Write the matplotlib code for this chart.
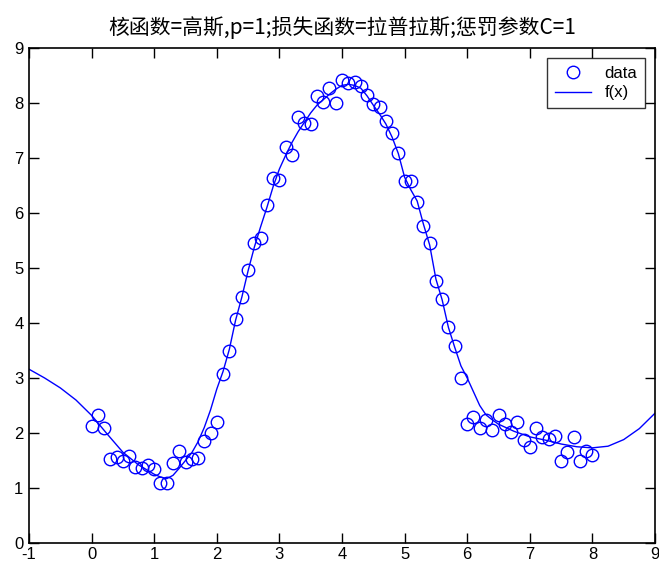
import numpy as np
import matplotlib
matplotlib.use("Agg")
import matplotlib.pyplot as plt

plt.rcParams['font.family'] = ['Liberation Sans', 'Noto Sans CJK SC', 'DejaVu Sans']
plt.rcParams['axes.unicode_minus'] = False

# Sample points (x from 0 to 8, step 0.1)
data_x = [round(0.1 * i, 1) for i in range(81)]
data_y = [
    2.12, 2.33, 2.10, 1.53, 1.57, 1.50, 1.58, 1.38, 1.36, 1.42,
    1.35, 1.10, 1.10, 1.45, 1.68, 1.48, 1.52, 1.55, 1.85, 2.00,
    2.20, 3.08, 3.50, 4.08, 4.47, 4.97, 5.45, 5.55, 6.15, 6.64,
    6.60, 7.20, 7.06, 7.75, 7.63, 7.62, 8.13, 8.02, 8.27, 8.00,
    8.42, 8.36, 8.38, 8.30, 8.15, 7.98, 7.93, 7.67, 7.45, 7.10,
    6.58, 6.58, 6.20, 5.76, 5.45, 4.76, 4.43, 3.93, 3.58, 3.00,
    2.16, 2.30, 2.10, 2.24, 2.05, 2.32, 2.16, 2.02, 2.20, 1.87,
    1.74, 2.09, 1.93, 1.90, 1.95, 1.50, 1.65, 1.92, 1.50, 1.68,
    1.60,
]

# Fitted regression curve f(x)
fx_x = [-1.0, -0.75, -0.5, -0.25, 0.0, 0.25, 0.5, 0.75, 1.0, 1.1, 1.2, 1.3,
        1.4, 1.5, 1.6, 1.7, 1.8, 1.9, 2.0, 2.1, 2.2, 2.3, 2.4, 2.5, 2.6,
        2.7, 2.8, 2.9, 3.0, 3.1, 3.2, 3.3, 3.4, 3.5, 3.6, 3.7, 3.8, 3.9,
        4.0, 4.1, 4.2, 4.3, 4.4, 4.5, 4.6, 4.7, 4.8, 4.9, 5.0, 5.1, 5.2,
        5.3, 5.4, 5.5, 5.6, 5.7, 5.8, 5.9, 6.0, 6.1, 6.2, 6.3, 6.4, 6.5,
        6.75, 7.0, 7.25, 7.5, 7.75, 8.0, 8.25, 8.5, 8.75, 9.0]
fx_y = [3.16, 3.00, 2.82, 2.60, 2.32, 1.98, 1.65, 1.42, 1.25, 1.20, 1.17, 1.23,
        1.36, 1.50, 1.64, 1.84, 2.10, 2.42, 2.80, 3.12, 3.52, 4.05, 4.47, 4.95,
        5.38, 5.75, 6.10, 6.48, 6.80, 7.05, 7.28, 7.48, 7.65, 7.82, 7.96,
        8.06, 8.16, 8.25, 8.32, 8.34, 8.32, 8.27, 8.13, 7.96, 7.80, 7.62,
        7.38, 7.08, 6.65, 6.42, 6.22, 5.80, 5.42, 4.80, 4.42, 3.92, 3.56,
        3.22, 3.00, 2.75, 2.50, 2.33, 2.24, 2.16, 2.03, 1.93, 1.87, 1.80,
        1.75, 1.73, 1.76, 1.88, 2.08, 2.36]

x_ticks = list(range(-1, 10))
y_ticks = list(range(0, 10))
title = '核函数=高斯,p=1;损失函数=拉普拉斯;惩罚参数C=1'

fig = plt.figure(figsize=(6.59, 5.62), dpi=100)
ax = fig.add_axes([29 / 659, 19 / 562, 626 / 659, 495 / 562])

ax.plot(data_x, data_y, 'o', color='#0000ff', markerfacecolor='none',
        markersize=9, markeredgewidth=1.0, label='data')
ax.plot(fx_x, fx_y, '-', color='#0000ff', linewidth=1.0, label='f(x)')

ax.set_xlim(-1, 9)
ax.set_ylim(0, 9)
ax.set_xticks(x_ticks)
ax.set_yticks(y_ticks)
ax.tick_params(direction='in', length=7, width=1, top=True, right=True,
               labelsize=12)
ax.tick_params(axis='x', pad=3)
ax.tick_params(axis='y', pad=4)
for s in ax.spines.values():
    s.set_linewidth(1.2)
    s.set_color('black')

ax.set_title(title, fontsize=15, pad=10,
             family=['Noto Sans CJK SC', 'Liberation Sans'])

leg = ax.legend(loc='upper right', fontsize=12, frameon=True, fancybox=False,
                edgecolor='black', borderaxespad=0.6, handlelength=2.2,
                handletextpad=0.8, borderpad=0.45, labelspacing=0.3)
leg.get_frame().set_linewidth(1.0)

fig.savefig('out.png', dpi=100)
